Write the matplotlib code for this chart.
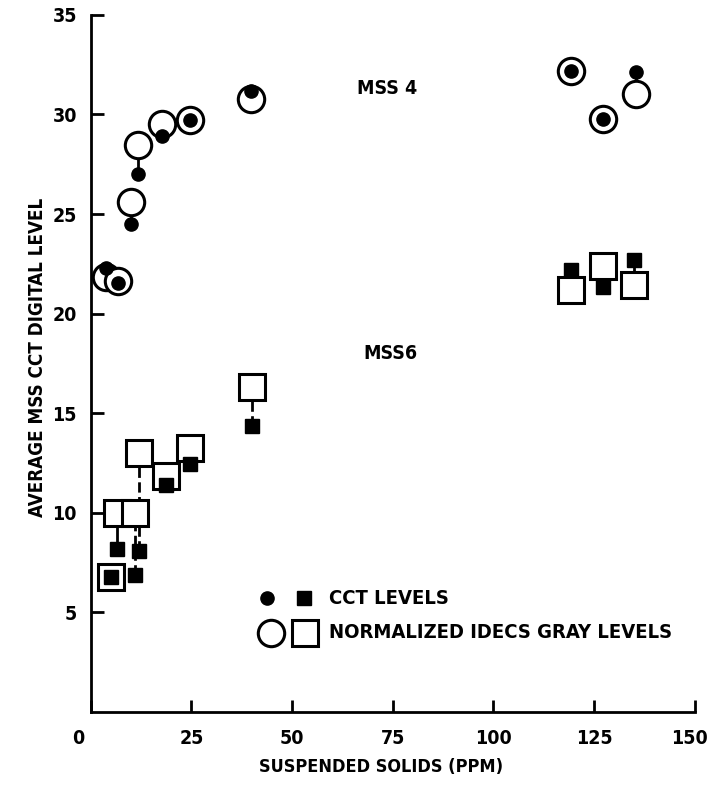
import matplotlib.pyplot as plt
from matplotlib.transforms import ScaledTranslation

# narrow bold look of the old typed figure
plt.rcParams['font.family'] = ['DejaVu Sans']
plt.rcParams['font.stretch'] = 'condensed'
plt.rcParams['font.weight'] = 'bold'
plt.rcParams['axes.labelweight'] = 'bold'

# MSS4 (circles)
x_mss4 = [3.7, 6.7, 10.0, 11.7, 17.7, 24.6, 39.8, 119.2, 127.1, 135.3]
cct_mss4 = [22.3, 21.55, 24.5, 27.0, 28.9, 29.7, 31.2, 32.2, 29.75, 32.15]
idecs_mss4 = [21.85, 21.65, 25.6, 28.45, 29.5, 29.7, 30.8, 32.2, 29.75, 31.05]

# MSS6 (squares)
x_mss6 = [5.0, 6.5, 11.0, 12.0, 18.6, 24.6, 40.0, 119.2, 127.1, 134.8]
cct_mss6 = [6.8, 8.2, 6.9, 8.1, 11.4, 12.45, 14.35, 22.2, 21.35, 22.7]
idecs_mss6 = [6.8, 10.0, 10.0, 13.0, 11.85, 13.25, 16.3, 21.2, 22.4, 21.45]
link6 = ['-', '-', '--', '--', '-', '-', '--', '-', '-', '-']

xticks = [0, 25, 50, 75, 100, 125, 150]
yticks = [5, 10, 15, 20, 25, 30, 35]

fw, fh = 7.09, 7.85
fig = plt.figure(figsize=(fw, fh), dpi=100)
ax = fig.add_axes([0.128, 0.093, 0.852, 0.888])

big, small, ew = 19, 9.5, 2.2

for i in range(len(x_mss4)):
    ax.plot([x_mss4[i], x_mss4[i]], [cct_mss4[i], idecs_mss4[i]], '-', color='k', lw=2, zorder=1)
ax.plot(x_mss4, idecs_mss4, 'o', ms=big, mfc='white', mec='k', mew=ew, ls='none', zorder=2)
ax.plot(x_mss4, cct_mss4, 'o', ms=small, mfc='k', mec='k', ls='none', zorder=3)

for i in range(len(x_mss6)):
    ax.plot([x_mss6[i], x_mss6[i]], [cct_mss6[i], idecs_mss6[i]], link6[i], color='k', lw=2, zorder=1)
ax.plot(x_mss6, idecs_mss6, 's', ms=big, mfc='white', mec='k', mew=ew, ls='none', zorder=2)
ax.plot(x_mss6, cct_mss6, 's', ms=small, mfc='k', mec='k', ls='none', zorder=3)

ax.text(73.5, 31.3, 'MSS 4', fontsize=14, ha='center', va='center')
ax.text(74.5, 18.0, 'MSS6', fontsize=14, ha='center', va='center')

# legend drawn by hand
ax.plot([0.292], [0.163], 'o', ms=small, color='k', transform=ax.transAxes, clip_on=False)
ax.plot([0.353], [0.163], 's', ms=small, color='k', transform=ax.transAxes, clip_on=False)
ax.plot([0.299], [0.114], 'o', ms=big, mfc='white', mec='k', mew=ew, transform=ax.transAxes, clip_on=False)
ax.plot([0.355], [0.114], 's', ms=big, mfc='white', mec='k', mew=ew, transform=ax.transAxes, clip_on=False)
ax.text(0.395, 0.163, 'CCT LEVELS', fontsize=14.5, va='center', transform=ax.transAxes)
ax.text(0.395, 0.114, 'NORMALIZED IDECS GRAY LEVELS', fontsize=14.5, va='center', transform=ax.transAxes)

ax.set_xlim(0, 150)
ax.set_ylim(0, 35)
ax.set_xticks(xticks)
ax.set_yticks(yticks)
ax.set_xticklabels([str(t) for t in xticks], fontsize=14)
ax.set_yticklabels([str(t) for t in yticks], fontsize=14)
ax.tick_params(direction='in', length=9, width=2, pad=10)
ax.tick_params(axis='x', pad=12)
lab0 = ax.get_xticklabels()[0]
lab0.set_transform(lab0.get_transform() + ScaledTranslation(-0.13, 0, fig.dpi_scale_trans))
labN = ax.get_xticklabels()[-1]
labN.set_transform(labN.get_transform() + ScaledTranslation(-0.05, 0, fig.dpi_scale_trans))
for s in ['top', 'right']:
    ax.spines[s].set_visible(False)
for s in ['left', 'bottom']:
    ax.spines[s].set_linewidth(2)

ax.set_xlabel('SUSPENDED SOLIDS (PPM)', fontsize=13)
ax.set_ylabel('AVERAGE MSS CCT DIGITAL LEVEL', fontsize=13.5)
ax.yaxis.set_label_coords(-0.072, 0.509)
ax.xaxis.set_label_coords(0.48, -0.066)

plt.savefig('out.png', dpi=100)
